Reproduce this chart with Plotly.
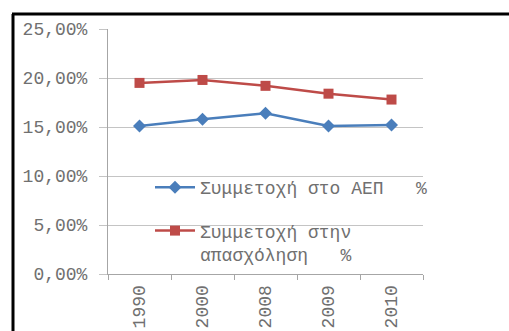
import plotly.graph_objects as go

years = ["1990", "2000", "2008", "2009", "2010"]
gdp_share = [0.151, 0.158, 0.164, 0.151, 0.152]
emp_share = [0.195, 0.198, 0.192, 0.184, 0.178]
name_gdp = "Συμμετοχή στο ΑΕΠ\u00a0\u00a0\u00a0%"
name_emp = "Συμμετοχή στην<br>απασχόληση\u00a0\u00a0\u00a0%"

FONT = "Liberation Mono"
TXT = "#707070"
GRID = "#c4c4c4"

fig = go.Figure()
fig.add_trace(go.Scatter(x=years, y=gdp_share, name=name_gdp, mode="lines+markers",
                         line=dict(color="#4a7ebb", width=2.5),
                         marker=dict(symbol="diamond", size=10, color="#4a7ebb"),
                         legendgroup="a"))
fig.add_trace(go.Scatter(x=years, y=emp_share, name=name_emp, mode="lines+markers",
                         line=dict(color="#be4b48", width=2.5),
                         marker=dict(symbol="square", size=10, color="#be4b48"),
                         legendgroup="b"))

L, R, T, B = 108, 86, 29, 57
W, H = 509, 331
pw, ph = W - L - R, H - T - B

def px(x):
    return (x - L) / pw

def py(y):
    return (H - B - y) / ph

fig.update_layout(
    width=W, height=H,
    margin=dict(l=L, r=R, t=T, b=B, pad=0, autoexpand=False),
    paper_bgcolor="white", plot_bgcolor="white",
    separators=",.",
    font=dict(family=FONT, size=18, color=TXT),
    showlegend=True,
    legend=dict(x=px(150), y=py(169), xanchor="left", yanchor="top",
                bgcolor="rgba(0,0,0,0)", tracegroupgap=17, valign="top",
                font=dict(family=FONT, size=18, color=TXT),
                itemwidth=40),
    xaxis=dict(type="category", range=[-0.5, 4.5], showline=True, linecolor="#a6a6a6",
               linewidth=1, ticks="outside", tickson="boundaries", ticklen=5,
               tickcolor="#a6a6a6", tickangle=-90, showgrid=False, automargin=False,
               ticklabelstandoff=3,
               tickfont=dict(family=FONT, size=18, color=TXT)),
    yaxis=dict(range=[0, 0.25], dtick=0.05, tickformat=".2%", showline=True,
               linecolor="#a6a6a6", linewidth=1, ticks="outside", ticklen=8,
               tickcolor=GRID, showgrid=True, gridcolor=GRID, gridwidth=1,
               ticklabelstandoff=8, automargin=False,
               zeroline=False, tickfont=dict(family=FONT, size=18, color=TXT)),
    shapes=[
        dict(type="line", xref="paper", yref="paper", x0=px(12), x1=px(509), y0=py(14), y1=py(14),
             line=dict(color="black", width=3)),
        dict(type="line", xref="paper", yref="paper", x0=px(13), x1=px(13), y0=py(14), y1=py(331),
             line=dict(color="black", width=3)),
    ],
)

fig.write_html("out.html")
